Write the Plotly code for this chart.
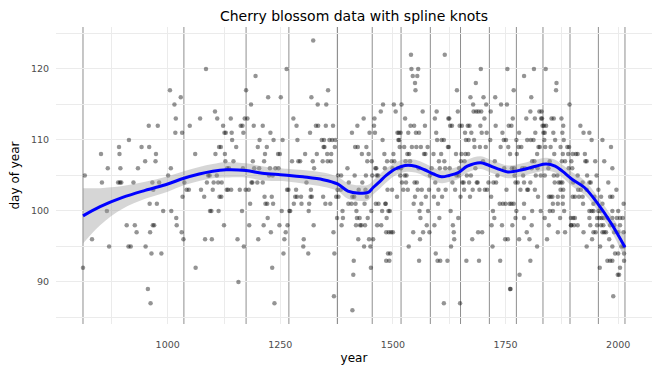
import plotly.graph_objects as go

obs_812_1115 = [(812,92),(816,105),(832,96),(852,108),(854,104),(865,100),(867,106),(870,95),(890,104),(892,109),
 (893,108),(894,104),(895,106),(897,104),(909,98),(913,95),(914,110),(918,95),(924,104),(927,98),(931,97),(934,106),
 (942,109),(950,107),(951,95),(956,89),(958,112),(959,109),(960,101),(961,97),(962,87),(964,94),(966,104),(967,98),
 (968,103),(970,98),(973,107),(974,108),(976,101),(978,112),(981,104),(986,94),(990,100),(1001,105),(1005,117),
 (1007,106),(1008,100),(1015,115),(1017,111),(1018,113),(1019,99),(1020,98),(1029,116),(1031,97),(1032,111),
 (1033,102),(1035,96),(1037,104),(1042,103),(1047,103),(1049,112),(1061,108),(1062,92),(1072,113),(1074,103),
 (1081,102),(1083,96),(1085,120),(1087,104),(1090,105),(1093,105),(1094,100),(1097,100),(1098,96),(1100,103),
 (1102,104),(1105,114),(1106,108),(1109,105),(1110,113),(1112,104),(1113,100),(1114,109),(1115,102)]

obs_1116_1211 = [(1195,119),(1174,117),(1185,115),(1171,113),(1177,113),(1140,113),(1123,112),(1162,112),(1166,112),
 (1191,112),(1126,111),(1129,111),(1142,111),(1168,111),(1143,110),(1204,110),(1118,109),(1152,109),(1200,109),
 (1127,108),(1128,107),(1146,107),(1189,107),(1132,106),(1136,106),(1167,106),(1192,106),(1203,106),(1120,104),
 (1186,104),(1188,104),(1199,104),(1211,104),(1131,103),(1134,103),(1141,103),(1160,103),(1173,103),(1180,103),
 (1119,102),(1183,101),(1165,100),(1125,98),(1181,98),(1155,96),(1201,96),(1169,95),(1157,90)]

obs_1211_1348 = [(1323,124),(1264,120),(1223,116),(1251,116),(1319,116),(1333,115),(1279,113),(1211,112),(1286,112),
 (1329,112),(1334,112),(1228,111),(1316,111),(1235,110),(1255,110),(1288,110),(1342,110),(1220,109),(1346,109),
 (1216,108),(1245,108),(1249,108),(1305,108),(1331,108),(1214,107),(1276,107),(1290,107),(1294,107),(1322,107),
 (1344,107),(1227,106),(1239,106),(1246,106),(1325,106),(1225,105),(1233,105),(1308,104),(1265,103),(1268,103),
 (1285,103),(1318,103),(1215,102),(1231,102),(1283,102),(1287,102),(1296,102),(1317,102),(1320,102),(1345,102),
 (1217,101),(1221,101),(1234,101),(1280,101),(1297,101),(1314,101),(1253,100),(1270,100),(1272,100),(1313,100),
 (1222,99),(1213,98),(1248,98),(1266,98),(1324,98),(1229,97),(1262,97),(1259,96),(1302,96),(1301,95),(1257,94),
 (1312,94),(1232,92),(1237,87)]

obs_1345_1485 = [(1356,117),(1352,115),(1478,115),(1473,114),(1435,113),(1459,113),(1351,112),(1367,112),(1421,112),
 (1458,112),(1409,111),(1448,111),(1460,111),(1347,110),(1359,110),(1365,110),(1372,110),(1477,110),(1348,109),
 (1371,109),(1416,109),(1422,109),(1441,109),(1354,108),(1363,108),(1431,108),(1446,108),(1481,108),(1355,107),
 (1362,107),(1443,107),(1453,107),(1461,106),(1463,106),(1399,106),(1482,106),(1378,105),(1385,105),(1415,105),
 (1440,105),(1454,105),(1464,105),(1467,105),(1402,104),(1432,104),(1377,103),(1384,103),(1424,103),(1439,103),
 (1374,102),(1379,102),(1410,102),(1414,102),(1442,102),(1350,101),(1361,101),(1401,101),(1408,101),(1417,101),
 (1437,101),(1462,101),(1468,101),(1483,101),(1388,100),(1419,100),(1452,100),(1476,100),(1376,99),(1389,99),
 (1420,99),(1426,99),(1444,99),(1386,98),(1418,98),(1427,98),(1430,98),(1438,98),(1465,98),(1474,98),(1368,97),
 (1423,96),(1447,96),(1456,96),(1436,95),(1450,95),(1370,94),(1413,93),(1485,93),(1451,92),(1412,91),(1369,88),
 (1410,86)]

obs_1484_1624 = [(1540,122),(1615,122),(1541,120),(1556,120),(1544,119),(1554,119),(1549,118),(1550,117),(1502,115),
 (1519,115),(1506,114),(1566,114),(1597,114),(1527,113),(1593,113),(1623,113),(1539,112),(1547,112),(1571,112),
 (1510,111),(1513,111),(1517,111),(1534,111),(1551,111),(1558,111),(1596,111),(1512,110),(1514,110),(1598,110),
 (1608,110),(1613,110),(1515,109),(1525,109),(1542,109),(1552,109),(1562,109),(1577,109),(1624,109),(1501,108),
 (1532,108),(1536,108),(1569,108),(1572,108),(1590,108),(1607,108),(1487,107),(1497,107),(1503,107),(1528,107),
 (1538,107),(1602,107),(1614,107),(1499,106),(1511,106),(1518,106),(1557,106),(1586,106),(1604,106),(1616,106),
 (1516,105),(1526,105),(1530,105),(1582,105),(1520,104),(1529,104),(1548,104),(1553,104),(1594,104),(1488,103),
 (1498,103),(1523,103),(1533,103),(1555,103),(1564,103),(1580,103),(1601,103),(1617,103),(1509,102),(1549,102),
 (1573,102),(1591,102),(1609,102),(1484,101),(1546,101),(1563,101),(1600,101),(1490,100),(1493,100),(1559,100),
 (1578,100),(1486,99),(1561,99),(1603,99),(1575,98),(1592,98),(1485,97),(1491,97),(1496,97),(1500,97),(1545,97),
 (1567,97),(1581,97),(1560,96),(1535,95),(1595,94),(1489,94),(1494,94),(1492,93),(1558,93),(1599,93),(1605,93),
 (1613,87)]

obs_1620_1760 = [(1695,120),(1754,120),(1684,118),(1642,117),(1672,116),(1701,116),(1727,116),(1678,115),(1707,115),
 (1740,115),(1753,115),(1644,114),(1679,114),(1685,114),(1690,114),(1696,114),(1717,114),(1625,113),(1703,113),
 (1627,112),(1631,112),(1648,112),(1653,112),(1666,112),(1670,112),(1694,112),(1728,112),(1757,112),(1660,111),
 (1674,111),(1697,111),(1708,111),(1743,111),(1662,110),(1668,110),(1680,110),(1716,110),(1746,110),(1751,110),
 (1622,109),(1681,109),(1693,109),(1706,109),(1739,109),(1756,109),(1640,108),(1652,108),(1661,108),(1667,108),
 (1651,107),(1659,107),(1700,107),(1726,107),(1626,106),(1647,106),(1683,106),(1747,106),(1641,105),(1646,105),
 (1664,105),(1673,105),(1732,105),(1632,104),(1654,104),(1657,104),(1669,104),(1686,104),(1688,104),(1712,104),
 (1723,104),(1729,104),(1638,103),(1658,103),(1677,103),(1692,103),(1704,103),(1709,103),(1752,103),(1650,102),
 (1671,102),(1718,102),(1737,101),(1744,101),(1750,101),(1759,101),(1628,100),(1722,100),(1645,99),(1725,99),
 (1633,98),(1719,98),(1742,98),(1635,97),(1689,97),(1698,97),(1636,96),(1676,96),(1749,96),(1755,96),(1629,95),
 (1721,95),(1621,93),(1663,93),(1691,93),(1738,93),(1760,89),(1649,87)]

obs_1759_1896 = [(1813,120),(1839,120),(1791,119),(1863,118),(1768,117),(1862,117),(1807,116),(1892,115),(1805,114),
 (1825,114),(1830,114),(1766,113),(1796,113),(1815,113),(1829,113),(1831,113),(1852,113),(1857,113),(1874,113),
 (1763,112),(1832,112),(1835,112),(1840,112),(1878,112),(1780,111),(1816,111),(1834,111),(1837,111),(1856,111),
 (1876,111),(1774,110),(1798,110),(1806,110),(1812,110),(1836,110),(1860,110),(1879,110),(1779,109),(1785,109),
 (1823,109),(1826,109),(1838,109),(1850,109),(1872,109),(1887,109),(1891,109),(1760,108),(1775,108),(1820,108),
 (1858,108),(1877,108),(1889,108),(1809,107),(1814,107),(1848,107),(1875,107),(1882,107),(1896,107),(1764,106),
 (1769,106),(1787,106),(1793,106),(1808,106),(1821,106),(1845,106),(1890,106),(1770,105),(1789,105),(1817,105),
 (1828,105),(1837,105),(1857,105),(1865,105),(1772,104),(1777,104),(1791,104),(1805,104),(1859,104),(1868,104),
 (1872,104),(1876,104),(1783,103),(1798,103),(1800,103),(1815,103),(1872,103),(1878,103),(1822,102),(1846,102),
 (1850,102),(1854,102),(1866,102),(1877,102),(1763,101),(1768,101),(1791,101),(1855,101),(1866,101),(1877,101),
 (1774,100),(1809,100),(1828,100),(1848,100),(1855,100),(1880,100),(1772,99),(1791,99),(1837,99),(1871,99),
 (1765,98),(1808,98),(1846,98),(1896,98),(1797,97),(1866,97),(1882,97),(1780,96),(1803,96),(1842,96),(1820,95),
 (1805,93),(1781,91),(1761,89)]

obs_1895_2015 = [(1916,112),(1923,111),(1936,111),(1941,110),(1965,110),(1984,109),(1899,108),(1906,108),(1910,108),
 (1926,108),(1949,107),(1927,107),(1930,107),(1969,107),(1898,106),(1987,106),(1910,105),(1931,105),(1952,105),
 (1900,104),(1921,104),(1936,104),(1939,104),(1978,104),(1911,103),(1917,103),(1930,103),(1956,103),(1996,103),
 (1899,102),(1904,102),(1913,102),(1921,102),(1947,102),(1962,102),(1982,102),(1987,102),(1922,101),(1945,101),
 (1965,101),(2012,101),(1936,100),(1941,100),(1945,100),(1956,100),(1960,100),(1987,100),(2000,100),(1895,99),
 (1900,99),(1904,99),(1936,99),(1953,99),(1958,99),(1963,99),(1967,99),(1976,99),(1987,99),(1997,99),(2004,99),
 (2010,99),(1895,98),(1902,98),(1910,98),(1938,98),(1953,98),(1962,98),(1967,98),(1982,98),(1991,98),(2004,98),
 (1923,97),(1945,97),(1950,97),(1965,97),(1969,97),(1973,97),(1991,97),(2000,97),(2012,97),(1942,96),(1980,96),
 (1930,95),(1960,95),(1987,95),(2007,95),(2012,95),(1993,94),(2000,94),(2013,94),(1976,93),(1982,93),(1987,93),
 (2013,93),(1959,92),(2004,92),(1999,91),(2002,91),(1989,88)]

# ---- spline knots ----
knots = [812, 1036, 1174, 1269, 1377, 1454, 1518, 1583, 1650, 1714, 1774, 1833, 1893, 1956, 2015]

# ---- smooth fit and its confidence band ----
smooth_year = [812, 850, 900, 950, 1000, 1036, 1070, 1100, 1130, 1174, 1210, 1250, 1270, 1300, 1345, 1377, 1400,
               1425, 1445, 1456, 1470, 1485, 1505, 1527, 1550, 1570, 1590, 1608, 1625, 1645, 1665, 1694, 1710,
               1730, 1755, 1787, 1817, 1840, 1860, 1876, 1899, 1925, 1955, 1985, 2015]
smooth_doy = [99.3, 100.6, 101.9, 102.9, 103.8, 104.6, 105.2, 105.6, 105.8, 105.7, 105.3, 105.1, 105.0, 104.8,
              104.4, 103.8, 102.8, 102.5, 102.6, 103.3, 104.1, 105.0, 105.9, 106.4, 106.3, 105.8, 105.2, 104.8,
              105.0, 105.4, 106.3, 106.8, 106.5, 106.0, 105.5, 105.8, 106.3, 106.6, 106.3, 105.6, 104.4, 103.3,
              101.0, 98.2, 94.9]
band_hi = [103.2, 103.2, 103.5, 104.1, 104.9, 105.6, 106.2, 106.6, 106.9, 106.7, 106.3, 106.0, 105.9, 105.75,
           105.4, 104.8, 103.9, 103.6, 103.7, 104.3, 105.1, 106.0, 106.8, 107.3, 107.2, 106.7, 106.1, 105.7,
           105.9, 106.3, 107.2, 107.7, 107.4, 106.9, 106.4, 106.7, 107.2, 107.5, 107.2, 106.5, 105.4, 104.3,
           102.0, 99.3, 96.5]
band_lo = [95.4, 98.0, 100.3, 101.7, 102.7, 103.6, 104.2, 104.6, 104.7, 104.7, 104.3, 104.2, 104.1, 103.85,
           103.4, 102.8, 101.7, 101.4, 101.5, 102.3, 103.1, 104.0, 105.0, 105.5, 105.4, 104.9, 104.3, 103.9,
           104.1, 104.5, 105.4, 105.9, 105.6, 105.1, 104.6, 104.9, 105.4, 105.7, 105.4, 104.7, 103.4, 102.3,
           100.0, 97.1, 93.3]

# ---- axis ticks ----
x_ticks = [1000, 1250, 1500, 1750, 2000]
y_ticks = [90, 100, 110, 120]

all_obs = (obs_812_1115 + obs_1116_1211 + obs_1211_1348 + obs_1345_1485 +
           obs_1484_1624 + obs_1620_1760 + obs_1759_1896 + obs_1895_2015)
years = [p[0] for p in all_obs]
doys = [p[1] for p in all_obs]

FONT = "DejaVu Sans"
# the page body adds an 8px margin, so the figure is sized to fill the rest of the window
W, H = 652, 364
fig = go.Figure()

fig.add_trace(go.Scatter(x=years, y=doys, mode="markers",
                         marker=dict(color="black", size=4.5, opacity=0.42, line=dict(width=0)),
                         hoverinfo="x+y", showlegend=False))
fig.add_trace(go.Scatter(x=smooth_year, y=band_lo, mode="lines", line=dict(width=0, shape="spline"),
                         showlegend=False, hoverinfo="skip"))
fig.add_trace(go.Scatter(x=smooth_year, y=band_hi, mode="lines", line=dict(width=0, shape="spline"),
                         fill="tonexty", fillcolor="rgba(153,153,153,0.4)", showlegend=False, hoverinfo="skip"))
fig.add_trace(go.Scatter(x=smooth_year, y=smooth_doy, mode="lines",
                         line=dict(color="#0000FF", width=3, shape="spline"), showlegend=False))

for k in knots:
    fig.add_shape(type="line", x0=k, x1=k, y0=0, y1=1, xref="x", yref="paper",
                  line=dict(color="#8f8f8f", width=1), layer="below")

grid = "#EBEBEB"
clear = "rgba(0,0,0,0)"
fig.update_layout(
    width=W, height=H,
    margin=dict(l=48, r=8, t=19, b=48),
    paper_bgcolor="white", plot_bgcolor="white",
    title=dict(text="Cherry blossom data with spline knots", x=346/W, xanchor="center",
               y=1 - 3/H, yanchor="top", pad=dict(t=0, b=0),
               font=dict(family=FONT, size=14, color="black")),
    xaxis=dict(range=[752.1, 2075], tickvals=x_ticks, ticks="outside", ticklen=12, tickcolor=clear,
               showline=False, zeroline=False, automargin=False,
               showgrid=True, gridcolor=grid, gridwidth=1,
               minor=dict(dtick=125, tick0=875, showgrid=True, gridcolor=grid, gridwidth=0.5),
               tickfont=dict(family=FONT, size=9.5, color="#4D4D4D"),
               title=dict(text="year", font=dict(family=FONT, size=12, color="black"), standoff=4)),
    yaxis=dict(range=[84.08, 125.9], tickvals=y_ticks, ticks="outside", ticklen=4, tickcolor=clear,
               showline=False, zeroline=False, automargin=False,
               showgrid=True, gridcolor=grid, gridwidth=1,
               minor=dict(dtick=5, tick0=85, showgrid=True, gridcolor=grid, gridwidth=0.5),
               tickfont=dict(family=FONT, size=9.5, color="#4D4D4D"),
               title=dict(text="day of year", font=dict(family=FONT, size=12, color="black"), standoff=9)),
)

fig.write_html("out.html")
